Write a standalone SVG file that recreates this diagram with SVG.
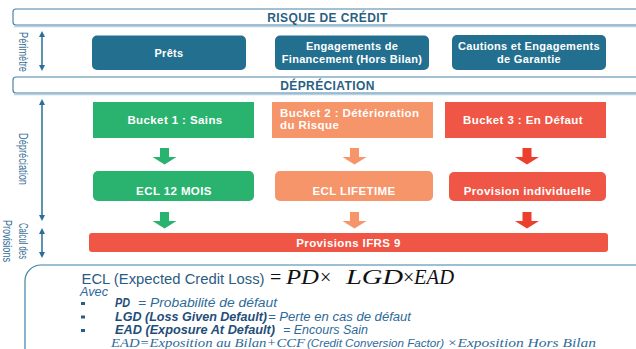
<svg xmlns="http://www.w3.org/2000/svg" width="636" height="349" viewBox="0 0 636 349">
<defs>
<style>
.hdr{fill:#fff;stroke:#4a84a8;stroke-width:1.2}
.hdrs{fill:none;stroke:#b9d2e2;stroke-width:1.5}
.ht{font-family:"Liberation Sans",Arial,sans-serif;font-weight:bold;font-size:12px;letter-spacing:0.4px;fill:#2a5f83;text-anchor:middle}
.bt{font-family:"Liberation Sans",Arial,sans-serif;font-weight:bold;font-size:11px;letter-spacing:0.3px;fill:#fff;text-anchor:middle}
.bk{font-size:11.5px;letter-spacing:0.4px}
.side{font-family:"Liberation Sans",Arial,sans-serif;font-size:12.5px;fill:#3a6f98;text-anchor:middle}
.teal{fill:#236f8f}
.green{fill:#29b36f}
.orange{fill:#f6946a}
.red{fill:#ef5645}
.ag{fill:#29b36f}
.ao{fill:#f6946a}
.ar{fill:#ec3f2d}
.dbl{stroke:#2a6f98;stroke-width:1.5;fill:none}
.f{font-family:"Liberation Sans",Arial,sans-serif;font-style:italic;font-size:12.5px;fill:#2e6a9a}
.fb{font-family:"Liberation Sans",Arial,sans-serif;font-style:italic;font-size:12.5px;font-weight:bold;fill:#1f4e79}
.m{font-family:"Liberation Serif","Times New Roman",serif;font-style:italic;font-size:12px;fill:#2e6a9a}
.mx{font-family:"Liberation Serif","Times New Roman",serif;font-size:20px;fill:#111}
.mi{font-style:italic}
</style>
<marker id="ah" viewBox="0 0 10 10" refX="5" refY="5" markerWidth="6" markerHeight="6" orient="auto-start-reverse" markerUnits="userSpaceOnUse">
<path d="M0,0 L10,5 L0,10 z" fill="#2a6f98"/>
</marker>
</defs>

<g id="header-risque">
<path class="hdrs" d="M14,26.5 H640"/>
<path class="hdr" d="M640,9 H16 Q13,9 13,12 V22 Q13,25 16,25 H640"/>
<text class="ht" x="327.5" y="21.5">RISQUE DE CRÉDIT</text>
</g>

<g id="header-depreciation">
<path class="hdrs" d="M14,94.5 H640"/>
<path class="hdr" d="M640,77 H16 Q13,77 13,80 V90 Q13,93 16,93 H640"/>
<text class="ht" x="327.5" y="89.5">DÉPRÉCIATION</text>
</g>

<g id="label-perimetre">
<text class="side" transform="translate(18.5,52) rotate(90)" textLength="40" lengthAdjust="spacingAndGlyphs">Périmètre</text>
</g>
<g id="label-depreciation">
<text class="side" transform="translate(18.5,159) rotate(90)" textLength="52" lengthAdjust="spacingAndGlyphs">Dépréciation</text>
</g>
<g id="label-calcul">
<text class="side" transform="translate(19,241) rotate(90)" textLength="36" lengthAdjust="spacingAndGlyphs">Calcul des</text>
<text class="side" transform="translate(3,241) rotate(90)" textLength="42" lengthAdjust="spacingAndGlyphs">Provisions</text>
</g>

<g id="prets">
<rect class="teal" x="92" y="35.5" width="154" height="34.5" rx="5"/>
<text class="bt" x="169" y="57">Prêts</text>
</g>
<g id="engagements-financement">
<rect class="teal" x="275" y="35.5" width="154" height="34.5" rx="5"/>
<text class="bt" x="352" y="50">Engagements de</text>
<text class="bt" x="352" y="62.5">Financement (Hors Bilan)</text>
</g>
<g id="cautions">
<rect class="teal" x="452" y="35" width="154" height="35" rx="5"/>
<text class="bt" x="529" y="50">Cautions et Engagements</text>
<text class="bt" x="529" y="62.5">de Garantie</text>
</g>

<g id="bucket1">
<rect class="green" x="93" y="102" width="161" height="36"/>
<text class="bt bk" x="175" y="124">Bucket 1 : Sains</text>
</g>
<g id="bucket2">
<rect class="orange" x="272" y="102" width="161" height="36"/>
<text class="bt bk" x="280" y="117" style="text-anchor:start">Bucket 2 : Détérioration</text>
<text class="bt bk" x="280" y="129" style="text-anchor:start">du Risque</text>
</g>
<g id="bucket3">
<rect class="red" x="445" y="102" width="161" height="36"/>
<text class="bt bk" x="523" y="124">Bucket 3 : En Défaut</text>
</g>

<g id="ecl12">
<rect class="green" x="93" y="171" width="161" height="30" rx="5"/>
<text class="bt bk" x="174" y="194.5">ECL 12 MOIS</text>
</g>
<g id="ecl-lifetime">
<rect class="orange" x="275" y="171" width="158" height="30" rx="5"/>
<text class="bt bk" x="354" y="194.5">ECL LIFETIME</text>
</g>
<g id="provision-individuelle">
<rect class="red" x="449" y="172" width="157" height="29" rx="5"/>
<text class="bt bk" x="527.5" y="194.5">Provision individuelle</text>
</g>

<g id="provisions-ifrs9">
<rect class="red" x="89" y="233" width="519" height="19" rx="3"/>
<text class="bt bk" x="348.5" y="246.5">Provisions IFRS 9</text>
</g>

<g id="connectors">
<path class="ag" d="M160,148 h9 v9 h7.5 l-12,7.5 l-12,-7.5 h7.5 z"/>
<path class="ao" d="M350,148 h9 v9 h7.5 l-12,7.5 l-12,-7.5 h7.5 z"/>
<path class="ar" d="M522.5,148 h9 v9 h7.5 l-12,7.5 l-12,-7.5 h7.5 z"/>
<path class="ag" d="M160,212 h9 v9 h7.5 l-12,7.5 l-12,-7.5 h7.5 z"/>
<path class="ao" d="M350,212 h9 v9 h7.5 l-12,7.5 l-12,-7.5 h7.5 z"/>
<path class="ar" d="M522.5,212 h9 v9 h7.5 l-12,7.5 l-12,-7.5 h7.5 z"/>
<line class="dbl" x1="42" y1="34" x2="42" y2="68" marker-start="url(#ah)" marker-end="url(#ah)"/>
<line class="dbl" x1="42" y1="102" x2="42" y2="218" marker-start="url(#ah)" marker-end="url(#ah)"/>
<line class="dbl" x1="42" y1="231" x2="42" y2="255" marker-start="url(#ah)" marker-end="url(#ah)"/>
</g>

<g id="formula-box">
<rect x="25" y="265" width="640" height="110" rx="16" fill="#fff" stroke="#3f80a8" stroke-width="1.2"/>
<text x="81.5" y="283.5" textLength="183" lengthAdjust="spacingAndGlyphs" style="font-family:'Liberation Sans',Arial,sans-serif;font-size:15px;fill:#2b5c82">ECL (Expected Credit Loss)</text>
<text class="mx" x="270" y="284">=</text>
<text class="mx mi" x="286" y="284" textLength="33" lengthAdjust="spacingAndGlyphs">PD</text>
<text class="mx" x="320" y="284">×</text>
<text class="mx mi" x="346" y="284" textLength="57" lengthAdjust="spacingAndGlyphs">LGD</text>
<text class="mx" x="403" y="284">×</text>
<text class="mx mi" x="414" y="284" textLength="40" lengthAdjust="spacingAndGlyphs">EAD</text>
<text class="f" x="80" y="296" textLength="28" lengthAdjust="spacingAndGlyphs">Avec</text>
<rect x="81" y="302" width="4" height="3" fill="#2b5c82"/>
<rect x="81" y="315.5" width="4" height="3" fill="#2b5c82"/>
<rect x="81" y="329" width="4" height="3" fill="#2b5c82"/>
<text class="fb" x="115" y="307" textLength="15" lengthAdjust="spacingAndGlyphs">PD</text>
<text class="f" x="138" y="307" textLength="139" lengthAdjust="spacingAndGlyphs">= Probabilité de défaut</text>
<text class="fb" x="115" y="320.5" textLength="152" lengthAdjust="spacingAndGlyphs">LGD (Loss Given Default)</text>
<text class="f" x="268" y="320.5" textLength="143" lengthAdjust="spacingAndGlyphs">= Perte en cas de défaut</text>
<text class="fb" x="115" y="333.5" textLength="160" lengthAdjust="spacingAndGlyphs">EAD (Exposure At Default)</text>
<text class="f" x="283" y="333.5" textLength="85" lengthAdjust="spacingAndGlyphs">= Encours Sain</text>
<text class="m" x="111" y="346.5" textLength="194" lengthAdjust="spacingAndGlyphs">EAD=Exposition au Bilan+CCF</text>
<text class="f" x="307" y="346.5" textLength="137" lengthAdjust="spacingAndGlyphs" style="font-size:11px">(Credit Conversion Factor)</text>
<text class="m" x="447" y="346.5" textLength="149" lengthAdjust="spacingAndGlyphs">×Exposition Hors Bilan</text>
</g>
</svg>
